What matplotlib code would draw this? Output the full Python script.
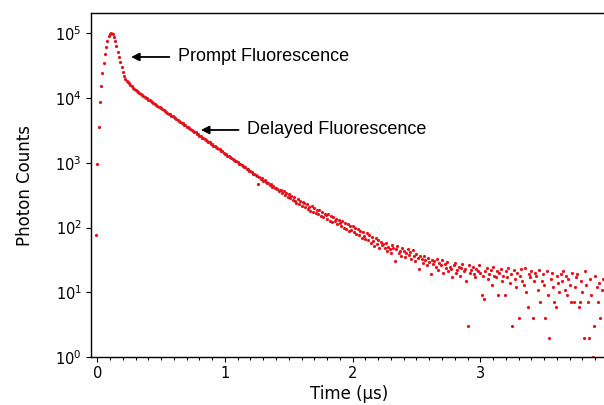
import numpy as np
import matplotlib
matplotlib.use("Agg")
import matplotlib.pyplot as plt
from matplotlib.ticker import FixedLocator, MultipleLocator, NullLocator

# time-resolved photon counts, one value per 0.01 us bin starting at -0.01 us
bin_width = 0.01
t_start = -0.01
x_ticks = [0, 1, 2, 3]

# instrument-limited prompt peak (-0.01 .. 0.23 us)
rise_counts = [77, 960, 3600, 8700, 15500, 24700, 35000, 47500, 61000, 77000,
               91000, 99500, 100000, 96500, 88000, 77000, 64000, 52500, 44000, 36500,
               30500, 25500, 22000, 19800, 18600]

# delayed fluorescence decay (0.24 .. 2.23 us)
decay_counts = [17700, 16900, 15900, 15150, 14250, 13850, 13300, 12900, 12400, 12050,
                11600, 11300, 10850, 10600, 10150, 9900, 9500, 9300, 8930, 8730,
                8400, 8200, 7880, 7700, 7420, 7260, 6970, 6800, 6520, 6380,
                6120, 5990, 5730, 5620, 5380, 5260, 5040, 4940, 4720, 4630,
                4420, 4340, 4150, 4080, 3880, 3820, 3640, 3590, 3410, 3360,
                3200, 3150, 2990, 2960, 2800, 2780, 2630, 2610, 2460, 2450,
                2310, 2290, 2170, 2100, 2080, 1980, 1950, 1850, 1820, 1740,
                1710, 1620, 1610, 1530, 1510, 1440, 1380, 1370, 1290, 1280,
                1240, 1180, 1160, 1120, 1070, 1050, 1020, 975, 955, 915,
                895, 860, 850, 800, 790, 745, 740, 720, 680, 675,
                660, 625, 470, 600, 570, 575, 530, 535, 505, 490,
                495, 460, 465, 430, 440, 405, 415, 400, 370, 385,
                380, 340, 365, 318, 345, 300, 325, 285, 310, 270,
                295, 258, 240, 272, 232, 258, 215, 245, 236, 205,
                228, 192, 210, 180, 218, 176, 200, 168, 190, 160,
                185, 150, 172, 145, 165, 158, 136, 162, 128, 150,
                120, 148, 125, 138, 112, 130, 118, 104, 128, 100,
                118, 96, 112, 90, 106, 92, 104, 84, 99, 80,
                96, 78, 90, 70, 84, 74, 66, 82, 64, 76,
                58, 72, 62, 52, 68, 56, 64, 48, 60, 54]

# noisy tail (2.24 .. 3.96 us)
tail_counts = [55, 48, 58, 44, 51, 46, 40, 53, 49, 30,
               46, 52, 40, 43, 37, 48, 44, 35, 41, 46,
               38, 42, 33, 45, 36, 30, 39, 34, 23, 37,
               33, 28, 36, 31, 26, 34, 29, 19, 32, 27,
               30, 25, 33, 22, 28, 26, 31, 20, 27, 24,
               29, 21, 25, 23, 17, 26, 28, 20, 22, 25,
               18, 24, 27, 21, 23, 15, 3, 26, 20, 22,
               25, 19, 17, 23, 21, 26, 20, 9, 18, 8,
               21, 24, 16, 19, 22, 13, 25, 18, 17, 21,
               9, 20, 23, 15, 18, 9, 21, 17, 24, 14,
               19, 3, 22, 16, 12, 20, 4, 18, 23, 15,
               13, 24, 10, 6, 19, 17, 21, 4, 15, 20,
               18, 11, 22, 7, 15, 19, 13, 4, 21, 9,
               2, 16, 20, 12, 7, 6, 18, 14, 10, 19,
               15, 21, 11, 18, 9, 16, 13, 7, 20, 7,
               12, 17, 19, 6, 7, 15, 10, 2, 21, 13,
               7, 2, 16, 9, 1, 3, 18, 12, 7, 14,
               4, 11, 16]

counts = np.array(rise_counts + decay_counts + tail_counts, dtype=float)
times = t_start + bin_width * np.arange(len(counts))

fig = plt.figure(figsize=(6.04, 4.05), dpi=100)
ax = fig.add_axes([91 / 604, 48 / 405, 517 / 604, 344 / 405])

ax.plot(times, counts, 'o', ms=2.3, mew=0, color='#e3121b')

ax.set_yscale('log')
ax.set_ylim(1, 2.07e5)
ax.set_xlim(-0.049, 4.0)
ax.xaxis.set_major_locator(FixedLocator(x_ticks))
ax.xaxis.set_minor_locator(MultipleLocator(0.1))
ax.yaxis.set_minor_locator(NullLocator())

ax.tick_params(axis='both', which='major', direction='out', length=3.6, width=0.8,
               labelsize=10.5, pad=3)
ax.tick_params(axis='x', which='minor', direction='out', length=2, width=0.8)
for s in ax.spines.values():
    s.set_linewidth(1.0)

ax.set_xlabel('Time (μs)', fontsize=12, labelpad=3)
ax.set_ylabel('Photon Counts', fontsize=12, labelpad=15)

arrow = dict(arrowstyle='-|>', color='black', lw=1.3, shrinkA=4, shrinkB=0,
             mutation_scale=12)
ax.annotate('Prompt Fluorescence', xy=(0.265, 4.33e4), xytext=(0.63, 4.33e4),
            ha='left', va='center', fontsize=13, family='Liberation Sans',
            arrowprops=arrow)
ax.annotate('Delayed Fluorescence', xy=(0.812, 3223), xytext=(1.172, 3223),
            ha='left', va='center', fontsize=13, family='Liberation Sans',
            arrowprops=arrow)

fig.savefig('out.png', dpi=100)
